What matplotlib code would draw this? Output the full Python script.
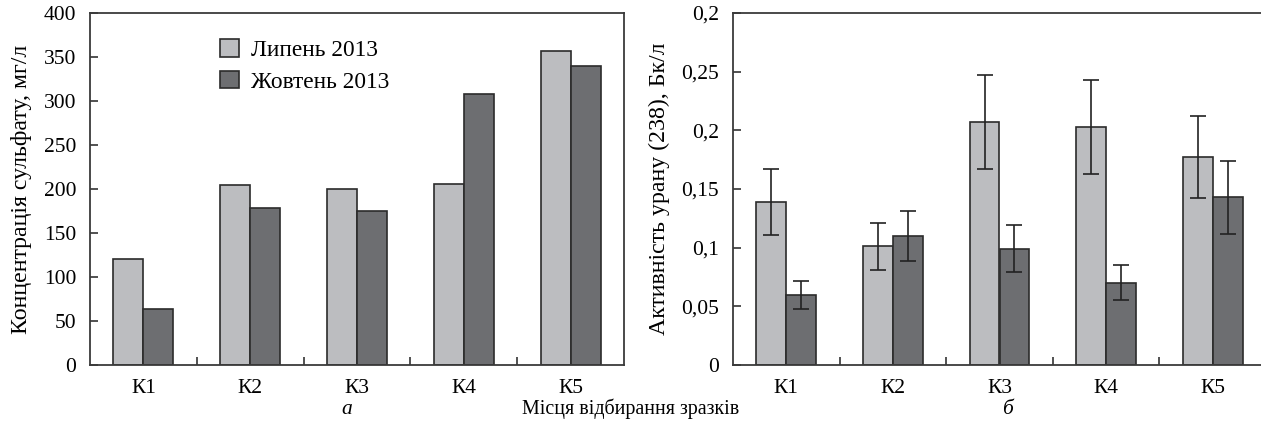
import numpy as np
import matplotlib
matplotlib.use("Agg")
import matplotlib.pyplot as plt

plt.rcParams["font.family"] = ["Liberation Serif", "DejaVu Serif"]
plt.rcParams["font.size"] = 15.5

sites = ["К1", "К2", "К3", "К4", "К5"]
series = ["Липень 2013", "Жовтень 2013"]

# panel a: sulfate, mg/l
sulf_jul = [120, 205, 200, 206, 357]
sulf_oct = [64, 178, 175, 308, 340]

# panel b: U-238 activity, Bq/l
u_jul = [0.139, 0.101, 0.207, 0.203, 0.177]
u_jul_err = [0.028, 0.020, 0.040, 0.040, 0.035]
u_oct = [0.060, 0.110, 0.099, 0.070, 0.143]
u_oct_err = [0.012, 0.021, 0.020, 0.015, 0.031]

u_ticks = [0, 0.05, 0.1, 0.15, 0.2, 0.25, 0.3]
u_ticklabels = ["0", "0,05", "0,1", "0,15", "0,2", "0,25", "0,2"]

LIGHT = "#bcbdc0"
DARK = "#6d6e71"
EDGE = "#2b2b2b"
W = 0.28

W_PX, H_PX = 1261, 424
fig = plt.figure(figsize=(W_PX / 100, H_PX / 100), dpi=100)
axa = fig.add_axes([90 / W_PX, 59 / H_PX, 534 / W_PX, 352 / H_PX])
axb = fig.add_axes([733 / W_PX, 59 / H_PX, 533 / W_PX, 352 / H_PX])

x = np.arange(len(sites))


def style(ax):
    ax.set_xlim(-0.5, len(sites) - 0.5)
    ax.set_xticks(x)
    ax.set_xticklabels(sites)
    ax.set_xticks(x[:-1] + 0.5, minor=True)
    ax.tick_params(axis="x", which="major", length=0, pad=10)
    ax.tick_params(axis="x", which="minor", direction="in", length=6,
                   width=1.2, color="#333333")
    ax.tick_params(axis="y", direction="in", length=6, width=1.2,
                   color="#333333", pad=10)
    for s in ax.spines.values():
        s.set_color("#3a3a3a")
        s.set_linewidth(1.3)


# panel a
axa.bar(x - W / 2, sulf_jul, W, color=LIGHT, edgecolor=EDGE, lw=1.2,
        label=series[0])
axa.bar(x + W / 2, sulf_oct, W, color=DARK, edgecolor=EDGE, lw=1.2,
        label=series[1])
axa.set_ylim(0, 400)
axa.set_yticks(range(0, 401, 50))
axa.set_ylabel("Концентрація сульфату, мг/л", labelpad=8, fontsize=17.2)
style(axa)
axa.legend(loc="upper left", bbox_to_anchor=(0.205, 0.985), frameon=False,
           handlelength=0.8, handleheight=0.8, handletextpad=0.5,
           labelspacing=0.4, fontsize=16.8)

# panel b
ekw = dict(ecolor="#222222", elinewidth=1.2, capsize=6, capthick=1.2)
axb.bar(x - W / 2, u_jul, W, yerr=u_jul_err, color=LIGHT, edgecolor=EDGE,
        lw=1.2, error_kw=ekw)
axb.bar(x + W / 2, u_oct, W, yerr=u_oct_err, color=DARK, edgecolor=EDGE,
        lw=1.2, error_kw=ekw)
axb.set_ylim(0, 0.3)
axb.set_yticks(u_ticks)
axb.set_yticklabels(u_ticklabels)
axb.set_ylabel("Активність урану (238), Бк/л", labelpad=8, fontsize=17.2)
style(axb)

fig.text(0.5, 0.035, "Місця відбирання зразків", ha="center", va="center",
         fontsize=14.4)
fig.text(347 / W_PX, 0.035, "а", ha="center", va="center", style="italic")
fig.text(1007 / W_PX, 0.035, "б", ha="center", va="center", style="italic")

fig.savefig("out.png", dpi=100)
